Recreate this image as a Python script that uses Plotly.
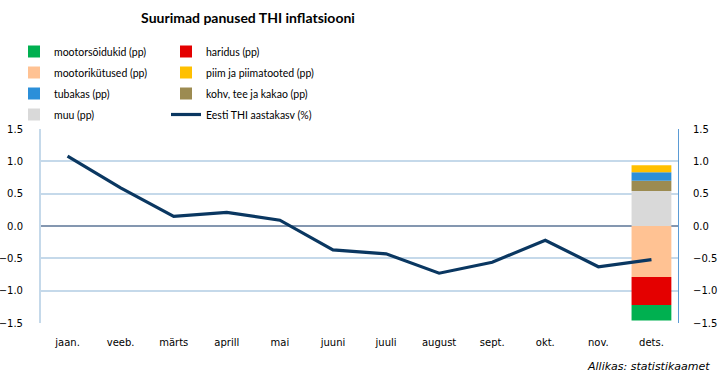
import plotly.graph_objects as go

months = ["jaan.", "veeb.", "märts", "aprill", "mai", "juuni", "juuli",
          "august", "sept.", "okt.", "nov.", "dets."]
thi = [1.08, 0.59, 0.15, 0.21, 0.09, -0.37, -0.43, -0.73, -0.56, -0.22, -0.63, -0.52]

last = "dets."
muu = 0.54
kohv = 0.16
tubakas = 0.13
piim = 0.11
mootorikytused = -0.79
haridus = -0.43
mootorsoidukid = -0.24

# stacking order (nearest zero first), legend column, rank, colour
bars = [
    ("muu (pp)", muu, "#d9d9d9", "legend", 4),
    ("kohv, tee ja kakao (pp)", kohv, "#9c8b51", "legend2", 3),
    ("tubakas (pp)", tubakas, "#2b8fd9", "legend", 3),
    ("piim ja piimatooted (pp)", piim, "#ffc000", "legend2", 2),
    ("mootorikütused (pp)", mootorikytused, "#ffc293", "legend", 2),
    ("haridus (pp)", haridus, "#e40000", "legend2", 1),
    ("mootorsõidukid (pp)", mootorsoidukid, "#00b050", "legend", 1),
]

fig = go.Figure()
for name, val, col, leg, rank in bars:
    fig.add_trace(go.Bar(x=[last], y=[val], name=name, marker_color=col,
                         marker_line_width=0, legend=leg, legendrank=rank,
                         legendgroup=name, width=0.75))

fig.add_trace(go.Scatter(x=months, y=thi, mode="lines", name="Eesti THI aastakasv (%)",
                         line=dict(color="#0a3761", width=3.2), legend="legend2",
                         legendrank=4, legendgroup="thi", yaxis="y2"))

L, R, T, B = 41, 678, 129, 323
def px(x):
    return (x - L) / (R - L)
def py(y):
    return (B - y) / (B - T)

legfont = dict(family="Lato, sans-serif", size=10.5, color="#000")
fig.update_layout(
    width=720, height=380,
    margin=dict(l=L, r=720 - R, t=T, b=380 - B, autoexpand=False),
    paper_bgcolor="white", plot_bgcolor="white",
    barmode="relative",
    title=dict(text="<b>Suurimad panused THI inflatsiooni</b>",
               font=dict(family="Lato, sans-serif", size=14, color="#000"),
               x=248/720, xanchor="center", xref="container",
               y=1-18/380, yanchor="middle", yref="container"),
    legend=dict(xref="paper", yref="paper", x=px(14), y=py(37),
                xanchor="left", yanchor="top", font=legfont, tracegroupgap=2,
                itemclick=False, bgcolor="rgba(0,0,0,0)"),
    legend2=dict(xref="paper", yref="paper", x=px(166), y=py(37),
                 xanchor="left", yanchor="top", font=legfont, tracegroupgap=2,
                 itemclick=False, bgcolor="rgba(0,0,0,0)"),
    xaxis=dict(categoryorder="array", categoryarray=months, range=[-0.5, 11.5],
               showgrid=False, showline=False, ticks="", ticklabelstandoff=12,
               tickangle=0,
               tickfont=dict(family="DejaVu Sans", size=10, color="#000")),
    yaxis=dict(range=[-1.5, 1.5], dtick=0.5, tickformat=".1f",
               gridcolor="#c5d9ea", gridwidth=2,
               zeroline=True, zerolinecolor="#8497b0", zerolinewidth=2,
               showline=True, linecolor="#c5d9ea", linewidth=2,
               ticks="", ticklabelstandoff=14,
               tickfont=dict(family="DejaVu Sans", size=10, color="#000")),
    yaxis2=dict(range=[-1.5, 1.5], dtick=0.5, tickformat=".1f", overlaying="y",
                side="right", showgrid=False, zeroline=False,
                showline=True, linecolor="#5b9bd5", linewidth=1,
                ticks="", ticklabelstandoff=12,
                tickfont=dict(family="DejaVu Sans", size=10, color="#000")),
    annotations=[dict(text="<i>Allikas: statistikaamet</i>", xref="paper", yref="paper",
                      x=px(712), y=py(366), xanchor="right", yanchor="middle",
                      showarrow=False,
                      font=dict(family="DejaVu Sans", size=11, color="#000"))],
)

fig.write_html("out.html", config={"displayModeBar": False},
               post_script="document.body.style.margin='0';")
